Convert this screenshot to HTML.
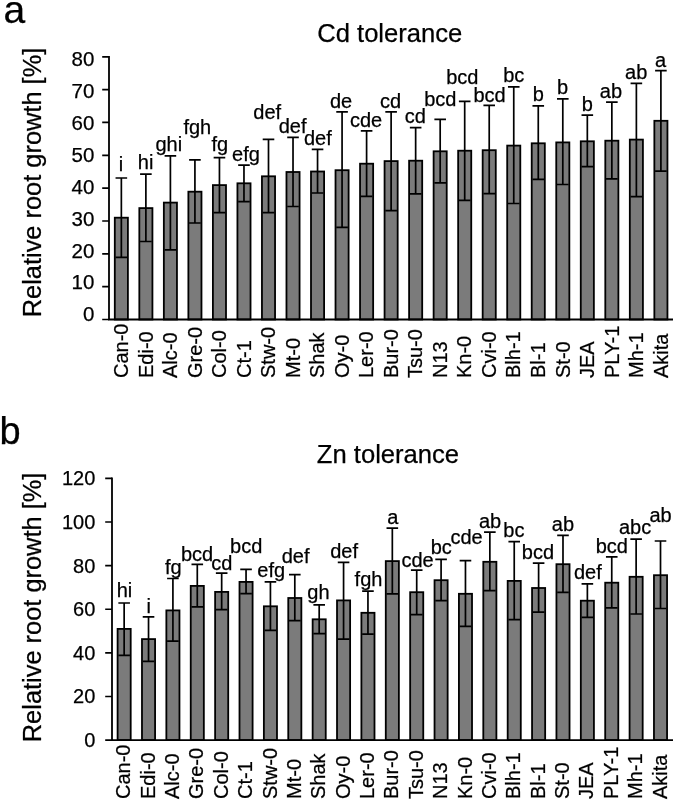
<!DOCTYPE html>
<html><head><meta charset="utf-8"><style>
html,body{margin:0;padding:0;background:#fff;}
body{width:675px;height:801px;overflow:hidden;}
svg{display:block;will-change:transform;}
text{font-family:"Liberation Sans",sans-serif;fill:#000;stroke:#000;stroke-width:0.25px;}
</style></head><body>
<svg width="675" height="801" viewBox="0 0 675 801">
<rect width="675" height="801" fill="#fff"/>
<rect x="114.80" y="217.70" width="13.10" height="101.80" fill="#7b7b7b" stroke="#000" stroke-width="1.8"/>
<path d="M121.35 178.00V257.40M115.55 178.00H127.15M115.55 257.40H127.15" stroke="#000" stroke-width="1.7" fill="none"/>
<rect x="139.33" y="208.10" width="13.10" height="111.40" fill="#7b7b7b" stroke="#000" stroke-width="1.8"/>
<path d="M145.88 174.20V241.50M140.07 174.20H151.68M140.07 241.50H151.68" stroke="#000" stroke-width="1.7" fill="none"/>
<rect x="163.85" y="202.60" width="13.10" height="116.90" fill="#7b7b7b" stroke="#000" stroke-width="1.8"/>
<path d="M170.40 155.80V249.80M164.60 155.80H176.20M164.60 249.80H176.20" stroke="#000" stroke-width="1.7" fill="none"/>
<rect x="188.38" y="191.70" width="13.10" height="127.80" fill="#7b7b7b" stroke="#000" stroke-width="1.8"/>
<path d="M194.92 159.90V223.00M189.12 159.90H200.72M189.12 223.00H200.72" stroke="#000" stroke-width="1.7" fill="none"/>
<rect x="212.90" y="185.10" width="13.10" height="134.40" fill="#7b7b7b" stroke="#000" stroke-width="1.8"/>
<path d="M219.45 157.60V212.70M213.65 157.60H225.25M213.65 212.70H225.25" stroke="#000" stroke-width="1.7" fill="none"/>
<rect x="237.43" y="183.30" width="13.10" height="136.20" fill="#7b7b7b" stroke="#000" stroke-width="1.8"/>
<path d="M243.97 165.20V201.70M238.17 165.20H249.78M238.17 201.70H249.78" stroke="#000" stroke-width="1.7" fill="none"/>
<rect x="261.95" y="176.30" width="13.10" height="143.20" fill="#7b7b7b" stroke="#000" stroke-width="1.8"/>
<path d="M268.50 139.30V212.60M262.70 139.30H274.30M262.70 212.60H274.30" stroke="#000" stroke-width="1.7" fill="none"/>
<rect x="286.47" y="172.00" width="13.10" height="147.50" fill="#7b7b7b" stroke="#000" stroke-width="1.8"/>
<path d="M293.02 137.40V206.50M287.22 137.40H298.82M287.22 206.50H298.82" stroke="#000" stroke-width="1.7" fill="none"/>
<rect x="311.00" y="171.50" width="13.10" height="148.00" fill="#7b7b7b" stroke="#000" stroke-width="1.8"/>
<path d="M317.55 149.40V193.00M311.75 149.40H323.35M311.75 193.00H323.35" stroke="#000" stroke-width="1.7" fill="none"/>
<rect x="335.52" y="170.20" width="13.10" height="149.30" fill="#7b7b7b" stroke="#000" stroke-width="1.8"/>
<path d="M342.07 111.90V227.40M336.27 111.90H347.88M336.27 227.40H347.88" stroke="#000" stroke-width="1.7" fill="none"/>
<rect x="360.05" y="163.70" width="13.10" height="155.80" fill="#7b7b7b" stroke="#000" stroke-width="1.8"/>
<path d="M366.60 130.90V196.30M360.80 130.90H372.40M360.80 196.30H372.40" stroke="#000" stroke-width="1.7" fill="none"/>
<rect x="384.57" y="161.10" width="13.10" height="158.40" fill="#7b7b7b" stroke="#000" stroke-width="1.8"/>
<path d="M391.12 111.90V210.70M385.32 111.90H396.92M385.32 210.70H396.92" stroke="#000" stroke-width="1.7" fill="none"/>
<rect x="409.10" y="160.70" width="13.10" height="158.80" fill="#7b7b7b" stroke="#000" stroke-width="1.8"/>
<path d="M415.65 127.60V193.90M409.85 127.60H421.45M409.85 193.90H421.45" stroke="#000" stroke-width="1.7" fill="none"/>
<rect x="433.62" y="151.30" width="13.10" height="168.20" fill="#7b7b7b" stroke="#000" stroke-width="1.8"/>
<path d="M440.18 119.40V182.80M434.38 119.40H445.98M434.38 182.80H445.98" stroke="#000" stroke-width="1.7" fill="none"/>
<rect x="458.15" y="150.70" width="13.10" height="168.80" fill="#7b7b7b" stroke="#000" stroke-width="1.8"/>
<path d="M464.70 101.30V200.40M458.90 101.30H470.50M458.90 200.40H470.50" stroke="#000" stroke-width="1.7" fill="none"/>
<rect x="482.67" y="150.20" width="13.10" height="169.30" fill="#7b7b7b" stroke="#000" stroke-width="1.8"/>
<path d="M489.22 105.40V193.70M483.42 105.40H495.02M483.42 193.70H495.02" stroke="#000" stroke-width="1.7" fill="none"/>
<rect x="507.20" y="145.60" width="13.10" height="173.90" fill="#7b7b7b" stroke="#000" stroke-width="1.8"/>
<path d="M513.75 86.90V203.50M507.95 86.90H519.55M507.95 203.50H519.55" stroke="#000" stroke-width="1.7" fill="none"/>
<rect x="531.72" y="143.30" width="13.10" height="176.20" fill="#7b7b7b" stroke="#000" stroke-width="1.8"/>
<path d="M538.27 105.90V179.40M532.48 105.90H544.07M532.48 179.40H544.07" stroke="#000" stroke-width="1.7" fill="none"/>
<rect x="556.25" y="142.40" width="13.10" height="177.10" fill="#7b7b7b" stroke="#000" stroke-width="1.8"/>
<path d="M562.80 98.90V184.50M557.00 98.90H568.60M557.00 184.50H568.60" stroke="#000" stroke-width="1.7" fill="none"/>
<rect x="580.77" y="141.30" width="13.10" height="178.20" fill="#7b7b7b" stroke="#000" stroke-width="1.8"/>
<path d="M587.33 115.20V166.60M581.53 115.20H593.12M581.53 166.60H593.12" stroke="#000" stroke-width="1.7" fill="none"/>
<rect x="605.30" y="140.70" width="13.10" height="178.80" fill="#7b7b7b" stroke="#000" stroke-width="1.8"/>
<path d="M611.85 102.10V178.80M606.05 102.10H617.65M606.05 178.80H617.65" stroke="#000" stroke-width="1.7" fill="none"/>
<rect x="629.82" y="139.60" width="13.10" height="179.90" fill="#7b7b7b" stroke="#000" stroke-width="1.8"/>
<path d="M636.38 83.30V196.60M630.58 83.30H642.17M630.58 196.60H642.17" stroke="#000" stroke-width="1.7" fill="none"/>
<rect x="654.35" y="120.80" width="13.10" height="198.70" fill="#7b7b7b" stroke="#000" stroke-width="1.8"/>
<path d="M660.90 70.70V171.10M655.10 70.70H666.70M655.10 171.10H666.70" stroke="#000" stroke-width="1.7" fill="none"/>
<path d="M109.00 55.90V319.50H673" stroke="#000" stroke-width="1.8" fill="none"/>
<path d="M102.20 56.80H109.00M102.20 89.64H109.00M102.20 122.47H109.00M102.20 155.31H109.00M102.20 188.15H109.00M102.20 220.99H109.00M102.20 253.82H109.00M102.20 286.66H109.00M102.20 319.50H109.00" stroke="#000" stroke-width="1.7" fill="none"/>
<text x="94.30" y="66.20" text-anchor="end" font-size="20.5">80</text>
<text x="94.30" y="98.09" text-anchor="end" font-size="20.5">70</text>
<text x="94.30" y="129.98" text-anchor="end" font-size="20.5">60</text>
<text x="94.30" y="161.87" text-anchor="end" font-size="20.5">50</text>
<text x="94.30" y="193.76" text-anchor="end" font-size="20.5">40</text>
<text x="94.30" y="225.65" text-anchor="end" font-size="20.5">30</text>
<text x="94.30" y="257.54" text-anchor="end" font-size="20.5">20</text>
<text x="94.30" y="289.43" text-anchor="end" font-size="20.5">10</text>
<text x="94.30" y="321.32" text-anchor="end" font-size="20.5">0</text>
<text x="121.10" y="170.70" text-anchor="middle" font-size="20">i</text>
<text x="145.60" y="169.10" text-anchor="middle" font-size="20">hi</text>
<text x="168.80" y="150.70" text-anchor="middle" font-size="20">ghi</text>
<text x="197.30" y="134.20" text-anchor="middle" font-size="20">fgh</text>
<text x="219.80" y="150.80" text-anchor="middle" font-size="20">fg</text>
<text x="246.00" y="160.50" text-anchor="middle" font-size="20">efg</text>
<text x="267.20" y="119.30" text-anchor="middle" font-size="20">def</text>
<text x="292.60" y="133.20" text-anchor="middle" font-size="20">def</text>
<text x="317.90" y="145.20" text-anchor="middle" font-size="20">def</text>
<text x="341.00" y="108.40" text-anchor="middle" font-size="20">de</text>
<text x="366.00" y="126.70" text-anchor="middle" font-size="20">cde</text>
<text x="390.60" y="108.20" text-anchor="middle" font-size="20">cd</text>
<text x="415.40" y="123.00" text-anchor="middle" font-size="20">cd</text>
<text x="440.30" y="106.40" text-anchor="middle" font-size="20">bcd</text>
<text x="462.30" y="83.80" text-anchor="middle" font-size="20">bcd</text>
<text x="489.60" y="102.00" text-anchor="middle" font-size="20">bcd</text>
<text x="513.80" y="81.90" text-anchor="middle" font-size="20">bc</text>
<text x="538.20" y="101.10" text-anchor="middle" font-size="20">b</text>
<text x="562.50" y="94.30" text-anchor="middle" font-size="20">b</text>
<text x="587.20" y="111.20" text-anchor="middle" font-size="20">b</text>
<text x="610.90" y="97.80" text-anchor="middle" font-size="20">ab</text>
<text x="636.20" y="79.30" text-anchor="middle" font-size="20">ab</text>
<text x="660.60" y="66.70" text-anchor="middle" font-size="20">a</text>
<text transform="translate(128.05 378.00) rotate(-90)" font-size="20">Can-0</text>
<text transform="translate(152.57 378.00) rotate(-90)" font-size="20">Edi-0</text>
<text transform="translate(177.10 378.00) rotate(-90)" font-size="20">Alc-0</text>
<text transform="translate(201.62 378.00) rotate(-90)" font-size="20">Gre-0</text>
<text transform="translate(226.15 378.00) rotate(-90)" font-size="20">Col-0</text>
<text transform="translate(250.67 378.00) rotate(-90)" font-size="20">Ct-1</text>
<text transform="translate(275.20 378.00) rotate(-90)" font-size="20">Stw-0</text>
<text transform="translate(299.72 378.00) rotate(-90)" font-size="20">Mt-0</text>
<text transform="translate(324.25 378.00) rotate(-90)" font-size="20">Shak</text>
<text transform="translate(348.77 378.00) rotate(-90)" font-size="20">Oy-0</text>
<text transform="translate(373.30 378.00) rotate(-90)" font-size="20">Ler-0</text>
<text transform="translate(397.82 378.00) rotate(-90)" font-size="20">Bur-0</text>
<text transform="translate(422.35 378.00) rotate(-90)" font-size="20">Tsu-0</text>
<text transform="translate(446.88 378.00) rotate(-90)" font-size="20">N13</text>
<text transform="translate(471.40 378.00) rotate(-90)" font-size="20">Kn-0</text>
<text transform="translate(495.92 378.00) rotate(-90)" font-size="20">Cvi-0</text>
<text transform="translate(520.45 378.00) rotate(-90)" font-size="20">Blh-1</text>
<text transform="translate(544.98 378.00) rotate(-90)" font-size="20">Bl-1</text>
<text transform="translate(569.50 378.00) rotate(-90)" font-size="20">St-0</text>
<text transform="translate(594.03 378.00) rotate(-90)" font-size="20">JEA</text>
<text transform="translate(618.55 378.00) rotate(-90)" font-size="20">PLY-1</text>
<text transform="translate(643.08 378.00) rotate(-90)" font-size="20">Mh-1</text>
<text transform="translate(667.60 378.00) rotate(-90)" font-size="20">Akita</text>
<text x="389.75" y="41.9" text-anchor="middle" font-size="25.6">Cd tolerance</text>
<text transform="translate(40.5 182.5) rotate(-90)" text-anchor="middle" font-size="25.4">Relative root growth [%]</text>
<text x="3.5" y="22.6" font-size="39">a</text>
<rect x="117.60" y="628.90" width="13.10" height="111.20" fill="#7b7b7b" stroke="#000" stroke-width="1.8"/>
<path d="M124.15 603.00V655.40M118.35 603.00H129.95M118.35 655.40H129.95" stroke="#000" stroke-width="1.7" fill="none"/>
<rect x="141.98" y="639.10" width="13.10" height="101.00" fill="#7b7b7b" stroke="#000" stroke-width="1.8"/>
<path d="M148.53 616.90V661.30M142.73 616.90H154.33M142.73 661.30H154.33" stroke="#000" stroke-width="1.7" fill="none"/>
<rect x="166.36" y="610.40" width="13.10" height="129.70" fill="#7b7b7b" stroke="#000" stroke-width="1.8"/>
<path d="M172.91 578.50V641.10M167.11 578.50H178.71M167.11 641.10H178.71" stroke="#000" stroke-width="1.7" fill="none"/>
<rect x="190.74" y="585.90" width="13.10" height="154.20" fill="#7b7b7b" stroke="#000" stroke-width="1.8"/>
<path d="M197.29 564.30V606.90M191.49 564.30H203.09M191.49 606.90H203.09" stroke="#000" stroke-width="1.7" fill="none"/>
<rect x="215.12" y="591.90" width="13.10" height="148.20" fill="#7b7b7b" stroke="#000" stroke-width="1.8"/>
<path d="M221.67 573.20V609.60M215.87 573.20H227.47M215.87 609.60H227.47" stroke="#000" stroke-width="1.7" fill="none"/>
<rect x="239.50" y="581.90" width="13.10" height="158.20" fill="#7b7b7b" stroke="#000" stroke-width="1.8"/>
<path d="M246.05 569.40V593.60M240.25 569.40H251.85M240.25 593.60H251.85" stroke="#000" stroke-width="1.7" fill="none"/>
<rect x="263.88" y="606.30" width="13.10" height="133.80" fill="#7b7b7b" stroke="#000" stroke-width="1.8"/>
<path d="M270.43 581.80V630.40M264.63 581.80H276.23M264.63 630.40H276.23" stroke="#000" stroke-width="1.7" fill="none"/>
<rect x="288.26" y="598.00" width="13.10" height="142.10" fill="#7b7b7b" stroke="#000" stroke-width="1.8"/>
<path d="M294.81 574.60V620.70M289.01 574.60H300.61M289.01 620.70H300.61" stroke="#000" stroke-width="1.7" fill="none"/>
<rect x="312.64" y="619.30" width="13.10" height="120.80" fill="#7b7b7b" stroke="#000" stroke-width="1.8"/>
<path d="M319.19 604.80V633.70M313.39 604.80H324.99M313.39 633.70H324.99" stroke="#000" stroke-width="1.7" fill="none"/>
<rect x="337.02" y="600.40" width="13.10" height="139.70" fill="#7b7b7b" stroke="#000" stroke-width="1.8"/>
<path d="M343.57 562.40V639.10M337.77 562.40H349.37M337.77 639.10H349.37" stroke="#000" stroke-width="1.7" fill="none"/>
<rect x="361.40" y="612.80" width="13.10" height="127.30" fill="#7b7b7b" stroke="#000" stroke-width="1.8"/>
<path d="M367.95 591.10V634.10M362.15 591.10H373.75M362.15 634.10H373.75" stroke="#000" stroke-width="1.7" fill="none"/>
<rect x="385.78" y="561.10" width="13.10" height="179.00" fill="#7b7b7b" stroke="#000" stroke-width="1.8"/>
<path d="M392.33 528.20V593.80M386.53 528.20H398.13M386.53 593.80H398.13" stroke="#000" stroke-width="1.7" fill="none"/>
<rect x="410.16" y="592.20" width="13.10" height="147.90" fill="#7b7b7b" stroke="#000" stroke-width="1.8"/>
<path d="M416.71 570.20V614.60M410.91 570.20H422.51M410.91 614.60H422.51" stroke="#000" stroke-width="1.7" fill="none"/>
<rect x="434.54" y="580.20" width="13.10" height="159.90" fill="#7b7b7b" stroke="#000" stroke-width="1.8"/>
<path d="M441.09 559.30V600.70M435.29 559.30H446.89M435.29 600.70H446.89" stroke="#000" stroke-width="1.7" fill="none"/>
<rect x="458.92" y="593.80" width="13.10" height="146.30" fill="#7b7b7b" stroke="#000" stroke-width="1.8"/>
<path d="M465.47 560.70V626.30M459.67 560.70H471.27M459.67 626.30H471.27" stroke="#000" stroke-width="1.7" fill="none"/>
<rect x="483.30" y="561.80" width="13.10" height="178.30" fill="#7b7b7b" stroke="#000" stroke-width="1.8"/>
<path d="M489.85 532.20V590.70M484.05 532.20H495.65M484.05 590.70H495.65" stroke="#000" stroke-width="1.7" fill="none"/>
<rect x="507.68" y="580.90" width="13.10" height="159.20" fill="#7b7b7b" stroke="#000" stroke-width="1.8"/>
<path d="M514.23 541.70V619.60M508.43 541.70H520.03M508.43 619.60H520.03" stroke="#000" stroke-width="1.7" fill="none"/>
<rect x="532.06" y="588.00" width="13.10" height="152.10" fill="#7b7b7b" stroke="#000" stroke-width="1.8"/>
<path d="M538.61 563.20V612.20M532.81 563.20H544.41M532.81 612.20H544.41" stroke="#000" stroke-width="1.7" fill="none"/>
<rect x="556.44" y="564.20" width="13.10" height="175.90" fill="#7b7b7b" stroke="#000" stroke-width="1.8"/>
<path d="M562.99 535.30V592.40M557.19 535.30H568.79M557.19 592.40H568.79" stroke="#000" stroke-width="1.7" fill="none"/>
<rect x="580.82" y="600.70" width="13.10" height="139.40" fill="#7b7b7b" stroke="#000" stroke-width="1.8"/>
<path d="M587.37 583.90V617.40M581.57 583.90H593.17M581.57 617.40H593.17" stroke="#000" stroke-width="1.7" fill="none"/>
<rect x="605.20" y="582.70" width="13.10" height="157.40" fill="#7b7b7b" stroke="#000" stroke-width="1.8"/>
<path d="M611.75 556.80V607.80M605.95 556.80H617.55M605.95 607.80H617.55" stroke="#000" stroke-width="1.7" fill="none"/>
<rect x="629.58" y="576.80" width="13.10" height="163.30" fill="#7b7b7b" stroke="#000" stroke-width="1.8"/>
<path d="M636.13 539.10V614.00M630.33 539.10H641.93M630.33 614.00H641.93" stroke="#000" stroke-width="1.7" fill="none"/>
<rect x="653.96" y="575.20" width="13.10" height="164.90" fill="#7b7b7b" stroke="#000" stroke-width="1.8"/>
<path d="M660.51 541.00V608.50M654.71 541.00H666.31M654.71 608.50H666.31" stroke="#000" stroke-width="1.7" fill="none"/>
<path d="M112.00 477.50V740.10H673" stroke="#000" stroke-width="1.8" fill="none"/>
<path d="M105.20 478.40H112.00M105.20 522.02H112.00M105.20 565.63H112.00M105.20 609.25H112.00M105.20 652.87H112.00M105.20 696.48H112.00M105.20 740.10H112.00" stroke="#000" stroke-width="1.7" fill="none"/>
<text x="95.30" y="485.30" text-anchor="end" font-size="20">120</text>
<text x="95.30" y="528.92" text-anchor="end" font-size="20">100</text>
<text x="95.30" y="572.53" text-anchor="end" font-size="20">80</text>
<text x="95.30" y="616.15" text-anchor="end" font-size="20">60</text>
<text x="95.30" y="659.77" text-anchor="end" font-size="20">40</text>
<text x="95.30" y="703.38" text-anchor="end" font-size="20">20</text>
<text x="95.30" y="747.00" text-anchor="end" font-size="20">0</text>
<text x="124.50" y="597.10" text-anchor="middle" font-size="20">hi</text>
<text x="148.80" y="612.80" text-anchor="middle" font-size="20">i</text>
<text x="173.30" y="573.60" text-anchor="middle" font-size="20">fg</text>
<text x="197.00" y="561.10" text-anchor="middle" font-size="20">bcd</text>
<text x="221.90" y="570.00" text-anchor="middle" font-size="20">cd</text>
<text x="246.20" y="553.40" text-anchor="middle" font-size="20">bcd</text>
<text x="271.20" y="576.60" text-anchor="middle" font-size="20">efg</text>
<text x="295.60" y="562.60" text-anchor="middle" font-size="20">def</text>
<text x="318.40" y="599.30" text-anchor="middle" font-size="20">gh</text>
<text x="344.10" y="558.20" text-anchor="middle" font-size="20">def</text>
<text x="368.50" y="585.80" text-anchor="middle" font-size="20">fgh</text>
<text x="392.80" y="523.70" text-anchor="middle" font-size="20">a</text>
<text x="417.50" y="566.60" text-anchor="middle" font-size="20">cde</text>
<text x="441.20" y="553.70" text-anchor="middle" font-size="20">bc</text>
<text x="466.60" y="543.70" text-anchor="middle" font-size="20">cde</text>
<text x="490.00" y="528.20" text-anchor="middle" font-size="20">ab</text>
<text x="513.90" y="537.10" text-anchor="middle" font-size="20">bc</text>
<text x="537.90" y="559.30" text-anchor="middle" font-size="20">bcd</text>
<text x="562.90" y="530.80" text-anchor="middle" font-size="20">ab</text>
<text x="587.90" y="579.40" text-anchor="middle" font-size="20">def</text>
<text x="611.80" y="552.80" text-anchor="middle" font-size="20">bcd</text>
<text x="635.10" y="534.10" text-anchor="middle" font-size="20">abc</text>
<text x="660.60" y="522.00" text-anchor="middle" font-size="20">ab</text>
<text transform="translate(130.25 799.00) rotate(-90)" font-size="20">Can-0</text>
<text transform="translate(154.63 799.00) rotate(-90)" font-size="20">Edi-0</text>
<text transform="translate(179.01 799.00) rotate(-90)" font-size="20">Alc-0</text>
<text transform="translate(203.39 799.00) rotate(-90)" font-size="20">Gre-0</text>
<text transform="translate(227.77 799.00) rotate(-90)" font-size="20">Col-0</text>
<text transform="translate(252.15 799.00) rotate(-90)" font-size="20">Ct-1</text>
<text transform="translate(276.53 799.00) rotate(-90)" font-size="20">Stw-0</text>
<text transform="translate(300.91 799.00) rotate(-90)" font-size="20">Mt-0</text>
<text transform="translate(325.29 799.00) rotate(-90)" font-size="20">Shak</text>
<text transform="translate(349.67 799.00) rotate(-90)" font-size="20">Oy-0</text>
<text transform="translate(374.05 799.00) rotate(-90)" font-size="20">Ler-0</text>
<text transform="translate(398.43 799.00) rotate(-90)" font-size="20">Bur-0</text>
<text transform="translate(422.81 799.00) rotate(-90)" font-size="20">Tsu-0</text>
<text transform="translate(447.19 799.00) rotate(-90)" font-size="20">N13</text>
<text transform="translate(471.57 799.00) rotate(-90)" font-size="20">Kn-0</text>
<text transform="translate(495.95 799.00) rotate(-90)" font-size="20">Cvi-0</text>
<text transform="translate(520.33 799.00) rotate(-90)" font-size="20">Blh-1</text>
<text transform="translate(544.71 799.00) rotate(-90)" font-size="20">Bl-1</text>
<text transform="translate(569.09 799.00) rotate(-90)" font-size="20">St-0</text>
<text transform="translate(593.47 799.00) rotate(-90)" font-size="20">JEA</text>
<text transform="translate(617.85 799.00) rotate(-90)" font-size="20">PLY-1</text>
<text transform="translate(642.23 799.00) rotate(-90)" font-size="20">Mh-1</text>
<text transform="translate(666.61 799.00) rotate(-90)" font-size="20">Akita</text>
<text x="387.95" y="462.8" text-anchor="middle" font-size="25.6">Zn tolerance</text>
<text transform="translate(40.5 607.45) rotate(-90)" text-anchor="middle" font-size="25.4">Relative root growth [%]</text>
<text x="-0.6" y="443.6" font-size="38">b</text>
</svg>
</body></html>
